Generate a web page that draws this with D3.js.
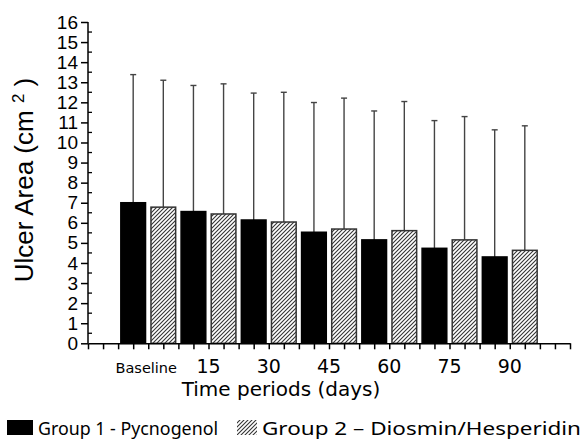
<!DOCTYPE html>
<html lang="en">
<head>
    <meta charset="UTF-8">
    <title>Ulcer Area over time</title>
    <script src="https://d3js.org/d3.v7.min.js"></script>
    <style>
        body { margin: 0; background: #fff; }
        svg { display: block; }
    </style>
</head>
<body>
    <script>
        var w = 583;
        var h = 440;

        // Data
        var periods = ["Baseline", "15", "30", "45", "60", "75", "90"];
        var groups = ["Group 1 - Pycnogenol", "Group 2 \u2013 Diosmin/Hesperidin"];
        var group1Mean = [7.00, 6.56, 6.14, 5.53, 5.15, 4.73, 4.30];
        var group1SD = [6.38, 6.28, 6.32, 6.46, 6.42, 6.36, 6.33];
        var group2Mean = [6.78, 6.44, 6.04, 5.69, 5.61, 5.15, 4.63];
        var group2SD = [6.32, 6.48, 6.46, 6.52, 6.43, 6.14, 6.20];
        var yTicks = d3.range(0, 17, 1);

        // Bars sit at positions 1.5, 2.5, ... on a 0-16 linear axis
        var bars = [];
        for (var i = 0; i < periods.length; i++) {
            bars.push({ pos: 1.5 + i * 2, mean: group1Mean[i], sd: group1SD[i], g: 0 });
            bars.push({ pos: 2.5 + i * 2, mean: group2Mean[i], sd: group2SD[i], g: 1 });
        }

        var xScale = d3.scaleLinear().domain([0, 16]).range([88, 570]);
        var yScale = d3.scaleLinear().domain([0, 16]).range([343.3, 22]);
        var barW = xScale(0.82) - xScale(0);

        var svg = d3.select("body")
            .append("svg")
            .attr("width", w)
            .attr("height", h);

        // Hatch pattern for group 2
        var defs = svg.append("defs");
        var pat = defs.append("pattern")
            .attr("id", "hatch")
            .attr("patternUnits", "userSpaceOnUse")
            .attr("width", 4)
            .attr("height", 4);
        pat.append("rect").attr("width", 4).attr("height", 4).attr("fill", "#fff");
        pat.append("path")
            .attr("d", "M-1,1 l2,-2 M0,4 l4,-4 M3,5 l2,-2")
            .attr("stroke", "#333")
            .attr("stroke-width", 1.1);

        // Error bars (upper only)
        var err = svg.append("g").attr("stroke", "#444").attr("stroke-width", 1.4);
        err.selectAll("line.v")
            .data(bars)
            .enter()
            .append("line")
            .attr("x1", function(d) { return xScale(d.pos); })
            .attr("x2", function(d) { return xScale(d.pos); })
            .attr("y1", function(d) { return yScale(d.mean); })
            .attr("y2", function(d) { return yScale(d.mean + d.sd); });
        err.selectAll("line.c")
            .data(bars)
            .enter()
            .append("line")
            .attr("x1", function(d) { return xScale(d.pos) - 3; })
            .attr("x2", function(d) { return xScale(d.pos) + 3; })
            .attr("y1", function(d) { return yScale(d.mean + d.sd); })
            .attr("y2", function(d) { return yScale(d.mean + d.sd); });

        // Bars
        svg.selectAll("rect.bar")
            .data(bars)
            .enter()
            .append("rect")
            .attr("class", "bar")
            .attr("x", function(d) { return xScale(d.pos) - barW / 2; })
            .attr("y", function(d) { return yScale(d.mean); })
            .attr("width", barW)
            .attr("height", function(d) { return yScale(0) - yScale(d.mean); })
            .attr("fill", function(d) { return d.g === 0 ? "#000" : "url(#hatch)"; })
            .attr("stroke", function(d) { return d.g === 0 ? "#000" : "#333"; })
            .attr("stroke-width", 1.5);

        // Y axis
        var yAxis = d3.axisLeft(yScale)
            .tickValues(yTicks)
            .tickFormat(d3.format("d"))
            .tickSize(7)
            .tickPadding(3);
        var gy = svg.append("g")
            .attr("transform", "translate(" + xScale(0) + ",0)")
            .call(yAxis);
        gy.select(".domain").attr("d", "M0," + yScale(16) + "V" + yScale(0));
        gy.selectAll("line, path").attr("stroke", "#000").attr("stroke-width", 1.5);
        gy.selectAll("text")
            .attr("font-family", "'Liberation Sans', Arial, sans-serif")
            .attr("font-size", "19px")
            .attr("fill", "#000");

        // Y minor ticks (inside)
        svg.append("g")
            .selectAll("line")
            .data(d3.range(0.5, 16, 1))
            .enter()
            .append("line")
            .attr("x1", xScale(0))
            .attr("x2", xScale(0) + 4)
            .attr("y1", function(d) { return yScale(d); })
            .attr("y2", function(d) { return yScale(d); })
            .attr("stroke", "#000")
            .attr("stroke-width", 1.3);

        // X axis
        var xAxis = d3.axisBottom(xScale)
            .tickValues(d3.range(0, 16.01, 0.5))
            .tickFormat("")
            .tickSize(6)
            .tickSizeOuter(0);
        var gx = svg.append("g")
            .attr("transform", "translate(0," + yScale(0) + ")")
            .call(xAxis);
        gx.selectAll("line, path").attr("stroke", "#000").attr("stroke-width", 1.5);

        // X tick labels at group centres
        svg.append("g")
            .selectAll("text")
            .data(periods)
            .enter()
            .append("text")
            .attr("x", function(d, i) { return xScale(2 + i * 2) + (i === 0 ? -2 : 0); })
            .attr("y", 373)
            .attr("text-anchor", "middle")
            .attr("font-family", "'DejaVu Sans', Verdana, sans-serif")
            .attr("font-size", function(d, i) { return i === 0 ? "14.5px" : "19px"; })
            .attr("fill", "#000")
            .text(function(d) { return d; });

        // Axis titles
        svg.append("text")
            .attr("x", 281)
            .attr("y", 396)
            .attr("text-anchor", "middle")
            .attr("font-family", "'DejaVu Sans', Verdana, sans-serif")
            .attr("font-size", "20px")
            .attr("fill", "#000")
            .text("Time periods (days)");

        var yt = svg.append("text")
            .attr("transform", "translate(33,180) rotate(-90)")
            .attr("text-anchor", "middle")
            .attr("font-family", "'Liberation Sans', Arial, sans-serif")
            .attr("font-size", "26px")
            .attr("fill", "#000");
        yt.append("tspan").text("Ulcer Area (cm ");
        yt.append("tspan").attr("dy", -9).attr("font-size", "17px").text("2");
        yt.append("tspan").attr("dy", 9).text(" )");

        // Legend
        var legend = svg.append("g")
            .attr("font-family", "'Noto Sans', 'Open Sans', sans-serif")
            .attr("font-size", "18px")
            .attr("fill", "#000");
        legend.append("rect")
            .attr("x", 7).attr("y", 420).attr("width", 26).attr("height", 15)
            .attr("fill", "#000");
        legend.append("text").attr("x", 38).attr("y", 435)
            .attr("textLength", 180).attr("lengthAdjust", "spacingAndGlyphs")
            .text(groups[0]);
        legend.append("rect")
            .attr("x", 237).attr("y", 420).attr("width", 20).attr("height", 15)
            .attr("fill", "url(#hatch)");
        legend.append("text").attr("x", 262).attr("y", 435)
            .attr("textLength", 319).attr("lengthAdjust", "spacingAndGlyphs")
            .text(groups[1]);
    </script>
</body>
</html>
